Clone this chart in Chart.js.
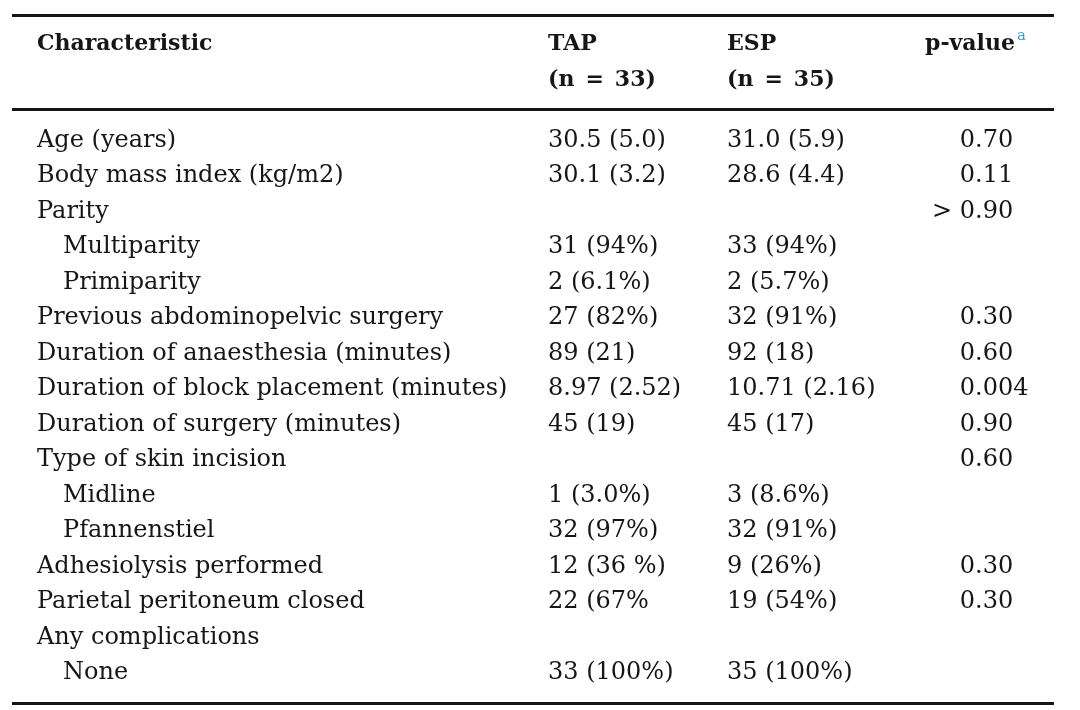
<!DOCTYPE html>
<html>
<head>
<meta charset="utf-8">
<script src="https://cdn.jsdelivr.net/npm/chart.js@4.4.1/dist/chart.umd.min.js"></script>
<style>
  html, body { margin: 0; padding: 0; background: #ffffff; }
  #wrap { width: 1080px; height: 710px; position: relative; }
</style>
</head>
<body>
<div id="wrap"><canvas id="tabel"></canvas></div>
<script>
// data tabel
const headers = ['Characteristic', 'TAP', 'ESP', 'p-value'];
const groupSizes = ['', '(n\u2002=\u200233)', '(n\u2002=\u200235)', ''];
const rowLabels = [
  'Age (years)', 'Body mass index (kg/m2)', 'Parity', 'Multiparity', 'Primiparity',
  'Previous abdominopelvic surgery', 'Duration of anaesthesia (minutes)',
  'Duration of block placement (minutes)', 'Duration of surgery (minutes)',
  'Type of skin incision', 'Midline', 'Pfannenstiel', 'Adhesiolysis performed',
  'Parietal peritoneum closed', 'Any complications', 'None'
];
const tapValues = ['30.5 (5.0)', '30.1 (3.2)', '', '31 (94%)', '2 (6.1%)', '27 (82%)', '89 (21)',
  '8.97 (2.52)', '45 (19)', '', '1 (3.0%)', '32 (97%)', '12 (36 %)', '22 (67%', '', '33 (100%)'];
const espValues = ['31.0 (5.9)', '28.6 (4.4)', '', '33 (94%)', '2 (5.7%)', '32 (91%)', '92 (18)',
  '10.71 (2.16)', '45 (17)', '', '3 (8.6%)', '32 (91%)', '9 (26%)', '19 (54%)', '', '35 (100%)'];
const pValues = ['0.70', '0.11', '> 0.90', '', '', '0.30', '0.60', '0.004', '0.90', '0.60',
  '', '', '0.30', '0.30', '', ''];
const subRows = ['Multiparity', 'Primiparity', 'Midline', 'Pfannenstiel', 'None'];

// layout (piksel / satuan baris)
const colX = [37, 548, 727, 975];   // p-value: posisi titik desimal
const indent = 26;
const headerRowY = [-2.735, -1.72];
const ruleY = [-3.71, -1.07, 15.68];
const ruleWidth = [3, 3, 3];
const textColor = '#161616';
const fontBody = '24px "DejaVu Serif"';
const fontHead = 'bold 22px "DejaVu Serif"';

const columns = [rowLabels, tapValues, espValues, pValues];

const datasets = columns.map((vals, c) => ({
  label: headers[c],
  data: vals.map((v, i) => ({ x: colX[c], y: i, text: v })),
  pointRadius: 0,
  pointHoverRadius: 0
}));

const tablePlugin = {
  id: 'tablePlugin',
  afterDatasetsDraw(chart) {
    const ctx = chart.ctx;
    const xs = chart.scales.x;
    const ys = chart.scales.y;
    ctx.save();
    ctx.fillStyle = textColor;
    ctx.textBaseline = 'alphabetic';
    ctx.textAlign = 'left';

    // garis horizontal
    ruleY.forEach((r, k) => {
      const y = ys.getPixelForValue(r);
      ctx.fillRect(xs.getPixelForValue(12), Math.round(y - ruleWidth[k] / 2),
        xs.getPixelForValue(1054) - xs.getPixelForValue(12), ruleWidth[k]);
    });

    // header
    ctx.font = fontHead;
    headers.forEach((h, c) => {
      const x = c === 3 ? xs.getPixelForValue(925) : xs.getPixelForValue(colX[c]);
      const y = ys.getPixelForValue(headerRowY[0]);
      ctx.fillText(h, x, y);
      if (c === 3) {
        const w = ctx.measureText(h).width;
        ctx.save();
        ctx.font = '15px "DejaVu Serif"';
        ctx.fillStyle = '#3d9bd3';
        ctx.fillText('a', x + w + 2, y - 10);
        ctx.restore();
      }
      if (groupSizes[c]) ctx.fillText(groupSizes[c], x, ys.getPixelForValue(headerRowY[1]));
    });

    // sel data
    ctx.font = fontBody;
    chart.data.datasets.forEach((ds, c) => {
      const meta = chart.getDatasetMeta(c);
      meta.data.forEach((pt, i) => {
        const t = ds.data[i].text;
        if (!t) return;
        let x = pt.x;
        if (c === 0 && subRows.includes(t)) x += indent;
        if (c === 3) {
          const pre = t.split('.')[0];
          x -= ctx.measureText(pre).width;
        }
        ctx.fillText(t, x, pt.y);
      });
    });
    ctx.restore();
  }
};

new Chart(document.getElementById('tabel').getContext('2d'), {
  type: 'scatter',
  data: { datasets: datasets },
  options: {
    responsive: true,
    maintainAspectRatio: false,
    animation: false,
    events: [],
    layout: { padding: 0 },
    plugins: { legend: { display: false }, tooltip: { enabled: false } },
    scales: {
      x: { type: 'linear', display: false, min: 0, max: 1080 },
      y: { type: 'linear', display: false, reverse: true, min: -4.144, max: 15.873 }
    }
  },
  plugins: [tablePlugin]
});
</script>
</body>
</html>
